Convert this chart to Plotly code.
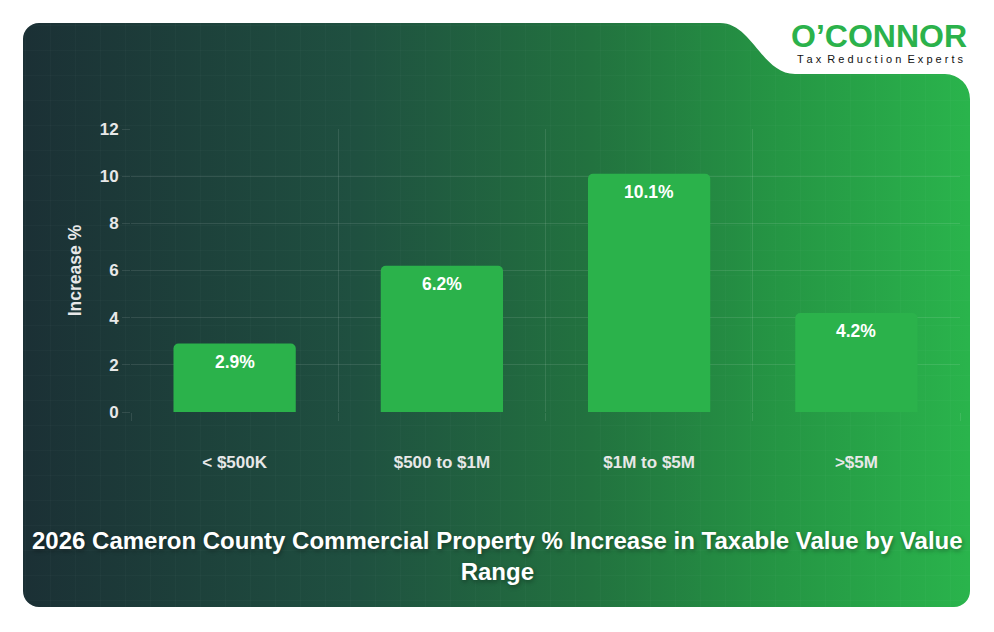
import base64
import plotly.graph_objects as go

# ---------------- data ----------------
categories = ["< $500K", "$500 to $1M", "$1M to $5M", ">$5M"]
increase_pct = [2.9, 6.2, 10.1, 4.2]
y_ticks = [0, 2, 4, 6, 8, 10, 12]
title_text = "2026 Cameron County Commercial Property % Increase in Taxable Value by Value<br>Range"
y_title = "Increase %"

# ---------------- layout geometry ----------------
W, H = 994, 632
L, R, T, B = 131, 34, 129, 220
PW, PH = W - L - R, H - T - B


def fx(px):
    return (px - L) / PW


def fy(py):
    return (H - B - py) / PH


FONT = "Liberation Sans, Arial, Helvetica, sans-serif"

# ---------------- background card (SVG) ----------------
CARD = ("M 39 23 L 720 23 C 752 23, 762 74, 795 74 L 945 74 A 25 25 0 0 1 970 99 "
        "L 970 591 A 16 16 0 0 1 954 607 L 39 607 A 16 16 0 0 1 23 591 L 23 39 "
        "A 16 16 0 0 1 39 23 Z")
svg = f"""<svg xmlns="http://www.w3.org/2000/svg" width="{W}" height="{H}" viewBox="0 0 {W} {H}">
<defs>
<linearGradient id="g" x1="0" y1="0" x2="1" y2="0">
<stop offset="0" stop-color="#1b3035"/>
<stop offset="0.35" stop-color="#1f5040"/>
<stop offset="0.6" stop-color="#22723f"/>
<stop offset="0.8" stop-color="#259644"/>
<stop offset="1" stop-color="#2ab44c"/>
</linearGradient>
<pattern id="p" width="25" height="25" patternUnits="userSpaceOnUse">
<path d="M 25 0 L 0 0 0 25" fill="none" stroke="rgba(255,255,255,0.035)" stroke-width="1"/>
</pattern>
<clipPath id="c"><path d="{CARD}"/></clipPath>
</defs>
<path d="{CARD}" fill="url(#g)"/>
<rect x="0" y="0" width="{W}" height="{H}" fill="url(#p)" clip-path="url(#c)"/>
</svg>"""
bg_src = "data:image/svg+xml;base64," + base64.b64encode(svg.encode()).decode()

GRID = "rgba(255,255,255,0.10)"

fig = go.Figure()
fig.add_trace(
    go.Bar(
        x=categories,
        y=increase_pct,
        marker=dict(color="#2bb24b", cornerradius=5, line=dict(width=0)),
        hoverinfo="skip",
    )
)

annotations = []
for c, v in zip(categories, increase_pct):
    annotations.append(
        dict(
            x=c, y=v, xref="x", yref="y", text=f"{v}%", showarrow=False,
            yshift=-18, yanchor="middle",
            font=dict(family=FONT, size=17.5, color="#ffffff", weight="bold"),
        )
    )

# title
annotations.append(
    dict(
        x=fx(497), y=fy(556), xref="paper", yref="paper", text=title_text,
        showarrow=False, xanchor="center", yanchor="middle", align="center",
        font=dict(family=FONT, size=24, color="#ffffff", weight="bold",
                  shadow="1px 2px 4px rgba(0,0,0,0.35)"),
    )
)
# logo
annotations.append(
    dict(
        x=fx(879), y=fy(36), xref="paper", yref="paper", text="O’CONNOR",
        showarrow=False, xanchor="center", yanchor="middle",
        font=dict(family=FONT, size=32, color="#2bb24b", weight="bold"),
    )
)
annotations.append(
    dict(
        x=fx(880), y=fy(59), xref="paper", yref="paper",
        text="T a x  R e d u c t i o n  E x p e r t s",
        showarrow=False, xanchor="center", yanchor="middle",
        font=dict(family=FONT, size=11, color="#111111"),
    )
)

fig.update_layout(
    width=W, height=H,
    margin=dict(l=L, r=R, t=T, b=B, autoexpand=False),
    paper_bgcolor="#ffffff",
    plot_bgcolor="rgba(0,0,0,0)",
    bargap=0.41,
    showlegend=False,
    annotations=annotations,
    images=[
        dict(
            source=bg_src, xref="paper", yref="paper",
            x=-L / PW, y=1 + T / PH, sizex=W / PW, sizey=H / PH,
            xanchor="left", yanchor="top", sizing="stretch", layer="below",
        )
    ],
    xaxis=dict(
        type="category",
        tickson="boundaries",
        showgrid=True, gridcolor=GRID, gridwidth=1,
        ticks="outside", ticklen=8, tickcolor=GRID,
        showline=False, zeroline=False,
        tickfont=dict(family=FONT, size=17, color="#e8e8e8", weight="bold"),
        ticklabelstandoff=38,
    ),
    yaxis=dict(
        range=[0, 12], tickvals=y_ticks,
        showgrid=True, gridcolor=GRID, gridwidth=1,
        ticks="outside", ticklen=8, tickcolor=GRID,
        showline=False, zeroline=False,
        tickfont=dict(family=FONT, size=17, color="#e8e8e8", weight="bold"),
        title=dict(text=y_title, standoff=13,
                   font=dict(family=FONT, size=17.5, color="#e8e8e8", weight="bold")),
    ),
)

fig.write_html("out.html")
